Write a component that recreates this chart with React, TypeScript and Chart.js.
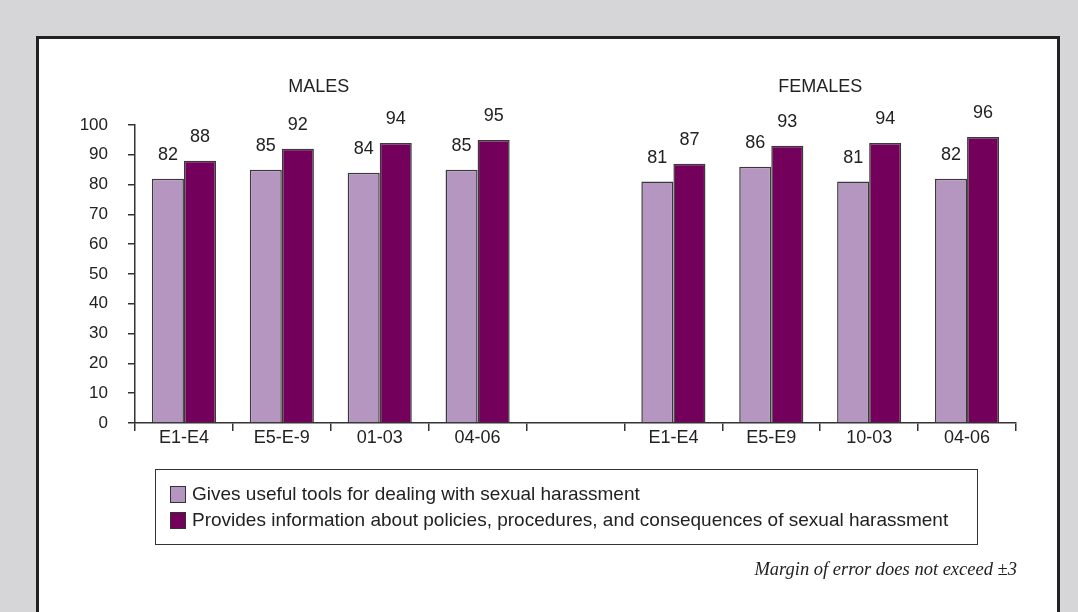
import React, { useEffect, useRef } from "react";
import { Chart, registerables } from "chart.js";

Chart.register(...registerables);

// ---- data ----
const categories = ["E1-E4", "E5-E-9", "01-03", "04-06", "", "E1-E4", "E5-E9", "10-03", "04-06"];
const toolsValues: (number | null)[] = [82, 85, 84, 85, null, 81, 86, 81, 82];
const infoValues: (number | null)[] = [88, 92, 94, 95, null, 87, 93, 94, 96];
const seriesLabels = [
  "Gives useful tools for dealing with sexual harassment",
  "Provides information about policies, procedures, and consequences of sexual harassment",
];
const seriesColors = ["#b496c0", "#73005a"];
const groupTitles = ["MALES", "FEMALES"];
const groupRanges = [
  [0, 3],
  [5, 8],
];
const footnote = "Margin of error does not exceed \u00b13";

// ---- style constants ----
const SANS = '"Liberation Sans", Arial, Helvetica, sans-serif';
const INK = "#222";
const titleNudge = [-12, 0];

const labelPlugin = {
  id: "valueLabelsAndTitles",
  afterDatasetsDraw(chart: any) {
    const ctx = chart.ctx;
    ctx.save();
    ctx.font = `18px ${SANS}`;
    ctx.fillStyle = INK;
    ctx.textAlign = "center";
    ctx.textBaseline = "middle";
    chart.data.datasets.forEach((ds: any, i: number) => {
      const meta = chart.getDatasetMeta(i);
      meta.data.forEach((el: any, j: number) => {
        const v = ds.data[j];
        if (v == null) return;
        ctx.fillText(String(v), el.x, el.y - 24);
      });
    });
    const xs = chart.scales.x;
    groupTitles.forEach((t, g) => {
      const [a, b] = groupRanges[g];
      const cx = (xs.getPixelForValue(a) + xs.getPixelForValue(b)) / 2 + titleNudge[g];
      ctx.fillText(t, cx, chart.chartArea.top - 38);
    });
    ctx.restore();
  },
};

export default function App() {
  const canvasRef = useRef<HTMLCanvasElement | null>(null);

  useEffect(() => {
    const canvas = canvasRef.current;
    if (!canvas) return;
    const chart = new Chart(canvas, {
      type: "bar",
      data: {
        labels: categories,
        datasets: [
          {
            label: seriesLabels[0],
            data: toolsValues,
            backgroundColor: seriesColors[0],
            borderColor: "#3a3a3a",
            borderWidth: 1.5,
            borderSkipped: "start",
            categoryPercentage: 0.655,
            barPercentage: 1,
          },
          {
            label: seriesLabels[1],
            data: infoValues,
            backgroundColor: seriesColors[1],
            borderColor: "#3a3a3a",
            borderWidth: 1.5,
            borderSkipped: "start",
            categoryPercentage: 0.655,
            barPercentage: 1,
          },
        ],
      },
      options: {
        responsive: false,
        animation: false,
        events: [],
        layout: { padding: { top: 125, right: 62, left: 0, bottom: 0 } },
        plugins: {
          legend: { display: false },
          tooltip: { enabled: false },
          title: { display: false },
        },
        scales: {
          x: {
            grid: {
              display: true,
              drawOnChartArea: false,
              drawTicks: true,
              tickLength: 8,
              color: "#333",
              lineWidth: 1.5,
              offset: true,
            },
            border: { display: true, color: "#333", width: 1.5 },
            ticks: {
              color: INK,
              font: { family: SANS, size: 18 },
              padding: -4,
              autoSkip: false,
              maxRotation: 0,
            },
            afterFit: (s: any) => {
              s.height = 189;
            },
          },
          y: {
            min: 0,
            max: 100,
            grid: {
              display: true,
              drawOnChartArea: false,
              drawTicks: true,
              tickLength: 7,
              color: "#333",
              lineWidth: 1.5,
            },
            border: { display: true, color: "#333", width: 1.5 },
            ticks: {
              stepSize: 10,
              color: INK,
              font: { family: SANS, size: 17 },
              padding: 20,
            },
            afterFit: (s: any) => {
              s.width = 135;
            },
          },
        },
      },
      plugins: [labelPlugin],
    } as any);
    return () => chart.destroy();
  }, []);

  return (
    <div
      style={{
        position: "fixed",
        left: 0,
        top: 0,
        width: 1078,
        height: 612,
        background: "#d6d6d8",
        overflow: "hidden",
        fontFamily: SANS,
      }}
    >
      <div
        style={{
          position: "absolute",
          left: 36,
          top: 36,
          width: 1018,
          height: 640,
          background: "#fff",
          border: "3px solid #222",
        }}
      />
      <canvas
        ref={canvasRef}
        width={1078}
        height={612}
        style={{ position: "absolute", left: 0, top: 0, width: 1078, height: 612 }}
      />
      <div
        style={{
          position: "absolute",
          left: 155,
          top: 469,
          width: 821,
          height: 74,
          border: "1.5px solid #333",
          background: "transparent",
        }}
      >
        {seriesLabels.map((lab, i) => (
          <div
            key={i}
            style={{
              position: "absolute",
              left: 14,
              top: 14 + i * 26,
              height: 20,
              display: "flex",
              alignItems: "center",
              whiteSpace: "nowrap",
              fontSize: 19,
              color: INK,
            }}
          >
            <span
              style={{
                display: "inline-block",
                width: 14,
                height: 15,
                background: seriesColors[i],
                border: "1px solid #333",
                marginRight: 6,
              }}
            />
            <span>{lab}</span>
          </div>
        ))}
      </div>
      <div
        style={{
          position: "absolute",
          right: 1078 - 1017,
          top: 559,
          fontFamily: '"Liberation Serif", "DejaVu Serif", serif',
          fontStyle: "italic",
          fontSize: 18.5,
          color: INK,
          whiteSpace: "nowrap",
        }}
      >
        {footnote}
      </div>
    </div>
  );
}
